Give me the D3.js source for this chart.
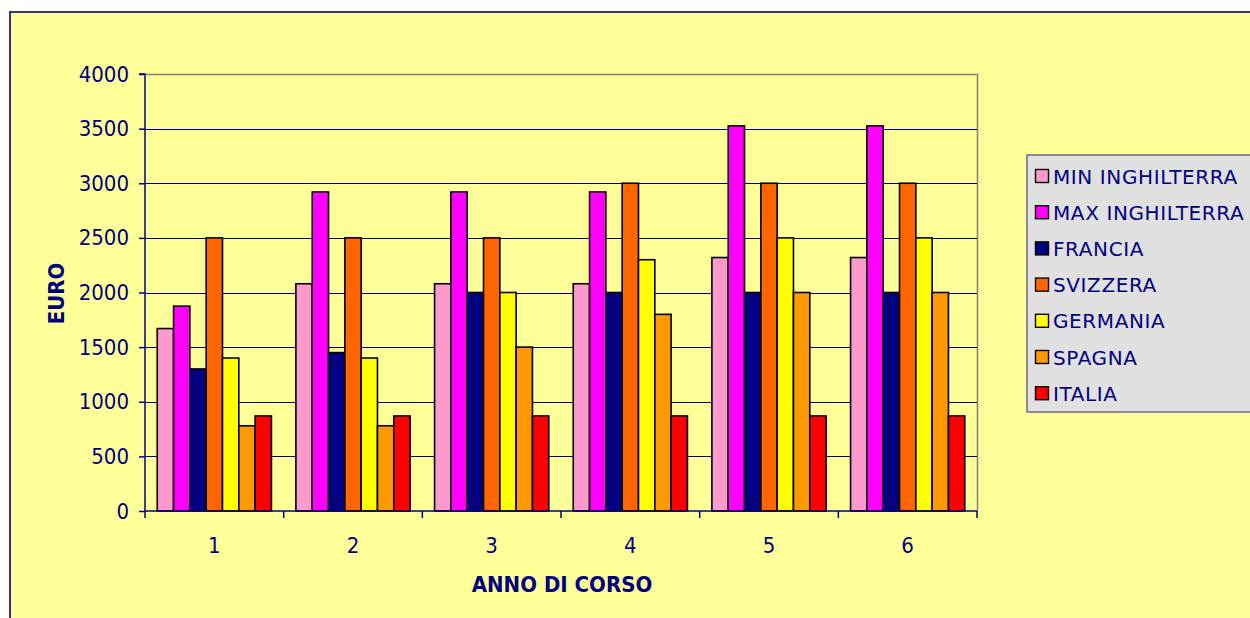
<!DOCTYPE html>
<html>
<head>
<meta charset="utf-8">
<script src="https://cdn.jsdelivr.net/npm/d3@7"></script>
<style>
  html, body { margin: 0; padding: 0; background: #ffffff; overflow: hidden; }
  svg { display: block; }
  .tick text { font-family: "DejaVu Sans Condensed", "DejaVu Sans", sans-serif; font-stretch: condensed; font-size: 22px; fill: #000080; }
  .title { font-family: "DejaVu Sans Condensed", "DejaVu Sans", sans-serif; font-stretch: condensed; font-weight: bold; font-size: 22px; fill: #000080; }
  .legend text { font-family: "DejaVu Sans", sans-serif; font-size: 20px; fill: #000080; letter-spacing: 0.6px; }
</style>
</head>
<body>
<svg id="chart" width="1250" height="618"></svg>
<script>
// Tuition per year of study (EUR)
const categories = ["1", "2", "3", "4", "5", "6"];
const seriesNames = ["MIN INGHILTERRA", "MAX INGHILTERRA", "FRANCIA", "SVIZZERA", "GERMANIA", "SPAGNA", "ITALIA"];
const seriesColors = ["#ff99cc", "#ff00ff", "#000080", "#ff6600", "#ffff00", "#ff9900", "#ff0000"];

const minInghilterra = [1670, 2080, 2080, 2080, 2320, 2320];
const maxInghilterra = [1875, 2920, 2920, 2920, 3525, 3525];
const francia        = [1300, 1450, 2000, 2000, 2000, 2000];
const svizzera       = [2500, 2500, 2500, 3000, 3000, 3000];
const germania       = [1400, 1400, 2000, 2300, 2500, 2500];
const spagna         = [780, 780, 1500, 1800, 2000, 2000];
const italia         = [870, 870, 870, 870, 870, 870];

const yTicks = [0, 500, 1000, 1500, 2000, 2500, 3000, 3500, 4000];
const yTitle = "EURO";
const xTitle = "ANNO DI CORSO";

const seriesValues = [minInghilterra, maxInghilterra, francia, svizzera, germania, spagna, italia];

const svg = d3.select("#chart");

// chart area background and border
svg.append("rect")
  .attr("x", 10).attr("y", 12)
  .attr("width", 1260).attr("height", 640)
  .attr("fill", "#ffff99")
  .attr("stroke", "#333380")
  .attr("stroke-width", 2);

const plot = { left: 145, right: 977, top: 74, bottom: 511 };

const x0 = d3.scaleBand().domain(categories).range([plot.left, plot.right]).padding(0);
const x1 = d3.scaleBand().domain(seriesNames).range([0, x0.bandwidth()]).paddingInner(0).paddingOuter(0.75);
const y = d3.scaleLinear().domain([0, 4000]).range([plot.bottom, plot.top]);

// plot frame (top and right edges)
svg.append("path")
  .attr("d", `M${plot.left},${plot.top + 0.5}H${plot.right + 0.5}V${plot.bottom}`)
  .attr("fill", "none")
  .attr("stroke", "#808080")
  .attr("stroke-width", 1.5);

// horizontal gridlines
svg.append("g")
  .selectAll("line")
  .data(yTicks.filter(d => d > 0 && d < 4000))
  .join("line")
  .attr("x1", plot.left).attr("x2", plot.right)
  .attr("y1", d => Math.round(y(d)) + 0.5).attr("y2", d => Math.round(y(d)) + 0.5)
  .attr("stroke", "#000080")
  .attr("stroke-width", 1.2);

// bars
const groups = svg.append("g")
  .selectAll("g")
  .data(categories)
  .join("g")
  .attr("transform", d => `translate(${x0(d)},0)`);

groups.selectAll("rect")
  .data((c, i) => seriesNames.map((s, k) => ({ s, k, v: seriesValues[k][i] })))
  .join("rect")
  .attr("x", d => x1(d.s))
  .attr("y", d => y(d.v))
  .attr("width", x1.bandwidth())
  .attr("height", d => y(0) - y(d.v))
  .attr("fill", d => seriesColors[d.k])
  .attr("stroke", "#000000")
  .attr("stroke-width", 1.6);

// y axis
const yAxis = svg.append("g")
  .attr("transform", `translate(${plot.left},0)`)
  .call(d3.axisLeft(y).tickValues(yTicks).tickSize(6).tickPadding(10).tickFormat(d3.format("d")));
yAxis.selectAll("path, line").attr("stroke", "#000080").attr("stroke-width", 1.5);
yAxis.select(".domain").attr("d", `M-6,${plot.top}H0V${plot.bottom}`);

// x axis with ticks at category boundaries
const xAxisG = svg.append("g").attr("transform", `translate(0,${plot.bottom})`);
xAxisG.append("line")
  .attr("x1", plot.left).attr("x2", plot.right)
  .attr("stroke", "#000080").attr("stroke-width", 1.5);
const boundaries = categories.map(c => x0(c)).concat([x0(categories[categories.length - 1]) + x0.bandwidth()]);
xAxisG.selectAll("line.tk")
  .data(boundaries)
  .join("line")
  .attr("class", "tk")
  .attr("x1", d => d).attr("x2", d => d)
  .attr("y1", 0).attr("y2", 7)
  .attr("stroke", "#000080").attr("stroke-width", 1.5);
xAxisG.selectAll("text")
  .data(categories)
  .join("text")
  .attr("x", d => x0(d) + x0.bandwidth() / 2)
  .attr("y", 42)
  .attr("text-anchor", "middle")
  .style("font-family", "'DejaVu Sans Condensed', 'DejaVu Sans', sans-serif")
  .style("font-stretch", "condensed")
  .style("font-size", "22px")
  .style("fill", "#000080")
  .text(d => d);

// axis titles
svg.append("text")
  .attr("class", "title")
  .attr("transform", `translate(64,${(plot.top + plot.bottom) / 2 + 1}) rotate(-90)`)
  .attr("text-anchor", "middle")
  .text(yTitle);

svg.append("text")
  .attr("class", "title")
  .attr("x", 562).attr("y", 592)
  .attr("text-anchor", "middle")
  .text(xTitle);

// legend
const legend = svg.append("g").attr("class", "legend");
legend.append("rect")
  .attr("x", 1027).attr("y", 155)
  .attr("width", 240).attr("height", 257)
  .attr("fill", "#e0e0e0")
  .attr("stroke", "#6a6a8a")
  .attr("stroke-width", 1.5);

const items = legend.selectAll("g.item")
  .data(seriesNames)
  .join("g")
  .attr("class", "item")
  .attr("transform", (d, i) => `translate(0,${176 + i * 36.2})`);
items.append("rect")
  .attr("x", 1035.5).attr("y", -6.5)
  .attr("width", 13).attr("height", 13)
  .attr("fill", (d, i) => seriesColors[i])
  .attr("stroke", "#000000")
  .attr("stroke-width", 1.4);
items.append("text")
  .attr("x", 1053)
  .attr("y", 7.5)
  .text(d => d);
</script>
</body>
</html>
